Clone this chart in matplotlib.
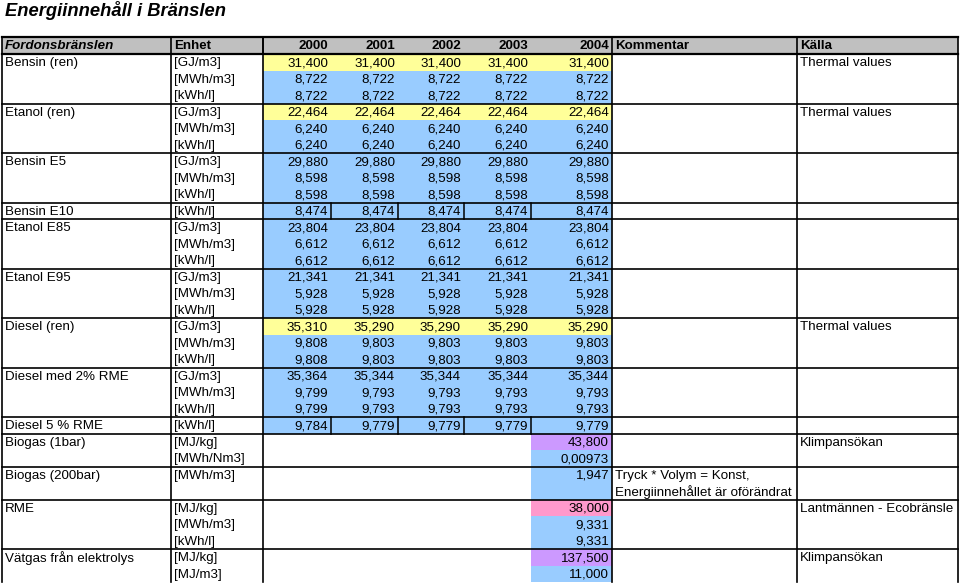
import matplotlib
matplotlib.use("Agg")
import matplotlib.pyplot as plt
from matplotlib.patches import Rectangle

# ---------------- data ----------------
title = "Energiinnehåll i Bränslen"
headers = ["Fordonsbränslen", "Enhet", "2000", "2001", "2002", "2003", "2004", "Kommentar", "Källa"]
years = ["2000", "2001", "2002", "2003", "2004"]

fuels = ["Bensin (ren)", "Etanol (ren)", "Bensin E5", "Bensin E10", "Etanol E85",
         "Etanol E95", "Diesel (ren)", "Diesel med 2% RME", "Diesel 5 % RME",
         "Biogas (1bar)", "Biogas (200bar)", "RME", "Vätgas från elektrolys"]

units = [
    ["[GJ/m3]", "[MWh/m3]", "[kWh/l]"],
    ["[GJ/m3]", "[MWh/m3]", "[kWh/l]"],
    ["[GJ/m3]", "[MWh/m3]", "[kWh/l]"],
    ["[kWh/l]"],
    ["[GJ/m3]", "[MWh/m3]", "[kWh/l]"],
    ["[GJ/m3]", "[MWh/m3]", "[kWh/l]"],
    ["[GJ/m3]", "[MWh/m3]", "[kWh/l]"],
    ["[GJ/m3]", "[MWh/m3]", "[kWh/l]"],
    ["[kWh/l]"],
    ["[MJ/kg]", "[MWh/Nm3]"],
    ["[MWh/m3]", ""],
    ["[MJ/kg]", "[MWh/m3]", "[kWh/l]"],
    ["[MJ/kg]", "[MJ/m3]"],
]

# values per row, 2000..2004 (None = empty)
values = [
    [[31.400] * 5, [8.722] * 5, [8.722] * 5],
    [[22.464] * 5, [6.240] * 5, [6.240] * 5],
    [[29.880] * 5, [8.598] * 5, [8.598] * 5],
    [[8.474] * 5],
    [[23.804] * 5, [6.612] * 5, [6.612] * 5],
    [[21.341] * 5, [5.928] * 5, [5.928] * 5],
    [[35.310, 35.290, 35.290, 35.290, 35.290],
     [9.808, 9.803, 9.803, 9.803, 9.803],
     [9.808, 9.803, 9.803, 9.803, 9.803]],
    [[35.364, 35.344, 35.344, 35.344, 35.344],
     [9.799, 9.793, 9.793, 9.793, 9.793],
     [9.799, 9.793, 9.793, 9.793, 9.793]],
    [[9.784, 9.779, 9.779, 9.779, 9.779]],
    [[None, None, None, None, 43.800], [None, None, None, None, 0.00973]],
    [[None, None, None, None, 1.947], [None] * 5],
    [[None, None, None, None, 38.000], [None, None, None, None, 9.331],
     [None, None, None, None, 9.331]],
    [[None, None, None, None, 137.500], [None, None, None, None, 11.000]],
]

# decimals for formatting
decimals = {0.00973: 5}

# cell colour codes: Y yellow, B blue, P purple, K pink, "" none
fills = [
    ["Y", "B", "B"], ["Y", "B", "B"], ["B", "B", "B"], ["B"],
    ["B", "B", "B"], ["B", "B", "B"], ["Y", "B", "B"], ["B", "B", "B"], ["B"],
    ["P", "B"], ["B", "B"], ["K", "B", "B"], ["P", "B"],
]
fill_only_2004 = [False] * 9 + [True] * 4
year_separators = [False, False, False, True, False, False, False, False, True,
                   False, False, False, False]

comments = [[""], [""], [""], [""], [""], [""], [""], [""], [""], [""],
            ["Tryck * Volym = Konst,", "Energiinnehållet är oförändrat"], [""], [""]]
sources = ["Thermal values", "Thermal values", "", "", "", "", "Thermal values",
           "", "", "Klimpansökan", "", "Lantmännen - Ecobränsle", "Klimpansökan"]

palette = {"Y": "#FFFF99", "B": "#99CCFF", "P": "#CC99FF", "K": "#FF99CC"}

# ---------------- layout ----------------
W, H = 960, 587
col_edges = [2, 171, 263, 331, 398, 464, 531, 612, 797, 958]
header_top, header_bot = 37, 54
row_h = 16.5
fs = 9.6
font = ["Liberation Sans", "DejaVu Sans"]


def fmt(v):
    if v is None:
        return ""
    d = decimals.get(v, 3)
    return f"{v:.{d}f}".replace(".", ",")


fig = plt.figure(figsize=(W / 100, H / 100), dpi=100)
ax = fig.add_axes([0, 0, 1, 1])
ax.set_xlim(0, W)
ax.set_ylim(H, 0)
ax.axis("off")

ax.text(5, 10, title, fontsize=13.2, fontweight="bold", fontstyle="italic",
        family=font, va="center", ha="left")

# header
ax.add_patch(Rectangle((col_edges[0], header_top), col_edges[-1] - col_edges[0],
                       header_bot - header_top, facecolor="#C0C0C0", edgecolor="none"))
hy = (header_top + header_bot) / 2 + 0.5
for i, h in enumerate(headers):
    style = "italic" if i == 0 else "normal"
    if 2 <= i <= 6:
        ax.text(col_edges[i + 1] - 3, hy, h, fontsize=fs, fontweight="bold",
                family=font, ha="right", va="center")
    else:
        ax.text(col_edges[i] + 3, hy, h, fontsize=fs, fontweight="bold",
                fontstyle=style, family=font, ha="left", va="center")

# body
y = header_bot
group_lines = [header_bot]
for g, fuel in enumerate(fuels):
    n = len(units[g])
    for r in range(n):
        top = y + r * row_h
        cy = top + row_h / 2 + 0.8
        code = fills[g][r]
        if code:
            if fill_only_2004[g]:
                x0, x1 = col_edges[6], col_edges[7]
            else:
                x0, x1 = col_edges[2], col_edges[7]
            ax.add_patch(Rectangle((x0, top), x1 - x0, row_h,
                                   facecolor=palette[code], edgecolor="none"))
        if r == 0:
            ax.text(col_edges[0] + 3, cy, fuel, fontsize=fs, family=font,
                    ha="left", va="center")
            if sources[g]:
                ax.text(col_edges[8] + 3, cy, sources[g], fontsize=fs, family=font,
                        ha="left", va="center")
        ax.text(col_edges[1] + 3, cy, units[g][r], fontsize=fs, family=font,
                ha="left", va="center")
        for k, yr in enumerate(years):
            s = fmt(values[g][r][k])
            if s:
                ax.text(col_edges[k + 3] - 3, cy, s, fontsize=fs, family=font,
                        ha="right", va="center")
        if r < len(comments[g]) and comments[g][r]:
            ax.text(col_edges[7] + 3, cy, comments[g][r], fontsize=fs, family=font,
                    ha="left", va="center")
    if year_separators[g]:
        for k in range(3, 7):
            ax.plot([col_edges[k], col_edges[k]], [y, y + n * row_h],
                    color="black", lw=1.1)
    y += n * row_h
    if g < len(fuels) - 1:
        group_lines.append(y)

bottom = y
# horizontal lines
ax.plot([col_edges[0], col_edges[-1]], [header_top, header_top], color="black", lw=1.6)
ax.plot([col_edges[0], col_edges[-1]], [header_bot, header_bot], color="black", lw=1.6)
for gl in group_lines[1:]:
    ax.plot([col_edges[0], col_edges[-1]], [gl, gl], color="black", lw=1.2)
# vertical lines
for xe in [col_edges[0], col_edges[1], col_edges[2], col_edges[7], col_edges[8], col_edges[9]]:
    ax.plot([xe, xe], [header_top, bottom], color="black", lw=1.2)
# header year boundaries
ax.plot([col_edges[2], col_edges[2]], [header_top, header_bot], color="black", lw=1.2)

fig.savefig("out.png", dpi=100)
